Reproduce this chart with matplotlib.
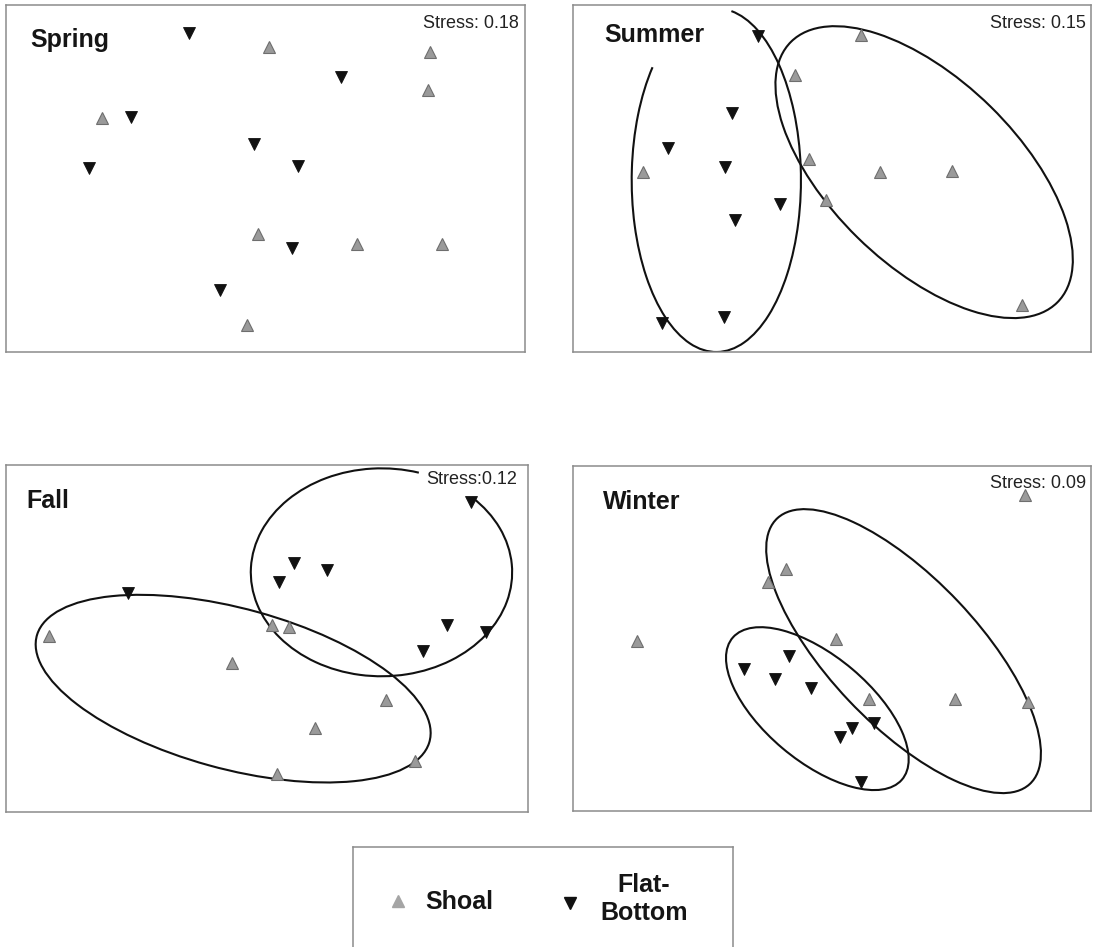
import matplotlib.pyplot as plt
from matplotlib.patches import Ellipse, Arc
from matplotlib.lines import Line2D

plt.rcParams['font.family'] = ['Liberation Sans', 'DejaVu Sans']

# NMDS ordination scores per season (axis 1, axis 2)
spring_shoal_x = [7.52, 12.02, 11.97, 2.86, 7.22, 10.00, 12.37, 6.92]
spring_shoal_y = [-1.41, -1.55, -2.71, -3.55, -7.02, -7.30, -7.31, -9.73]
spring_flat_x = [5.28, 9.55, 3.66, 7.12, 2.51, 8.33, 8.18, 6.15]
spring_flat_y = [-1.00, -2.32, -3.52, -4.33, -5.03, -4.98, -7.43, -8.70]

summer_shoal_x = [8.80, 6.87, 7.28, 2.41, 9.38, 11.48, 7.78, 13.54]
summer_shoal_y = [-1.08, -2.25, -4.77, -5.17, -5.16, -5.12, -6.00, -9.13]
summer_flat_x = [5.78, 5.02, 3.14, 4.83, 6.43, 5.13, 2.99, 4.79]
summer_flat_y = [-1.10, -3.40, -4.43, -5.00, -6.10, -6.60, -9.66, -9.48]

fall_shoal_x = [1.48, 6.55, 7.68, 8.15, 10.84, 8.86, 11.63, 7.82]
fall_shoal_y = [-5.57, -6.36, -5.25, -5.30, -7.47, -8.32, -9.30, -9.70]
fall_flat_x = [3.67, 8.28, 9.20, 7.85, 13.20, 12.52, 13.60, 11.85]
fall_flat_y = [-4.28, -3.38, -3.58, -3.96, -1.55, -5.23, -5.45, -6.00]

winter_shoal_x = [13.65, 6.64, 6.13, 2.29, 8.13, 9.08, 11.62, 13.75]
winter_shoal_y = [-1.33, -3.55, -3.95, -5.72, -5.65, -7.45, -7.46, -7.55]
winter_flat_x = [6.73, 5.43, 6.33, 7.38, 8.60, 9.24, 8.23, 8.85]
winter_flat_y = [-6.18, -6.57, -6.85, -7.13, -8.33, -8.18, -8.60, -9.95]

stress = {"Spring": "Stress: 0.18", "Summer": "Stress: 0.15",
          "Fall": "Stress:0.12", "Winter": "Stress: 0.09"}

# group ellipses: (cx, cy, width, height, angle, theta1, theta2)
summer_ell = [(4.57, -5.40, 4.96, 10.26, 0, 119, 445),
              (10.66, -5.16, 11.02, 5.52, -45, 0, 360)]
fall_ell = [(6.59, -7.14, 11.36, 4.78, -16.6, 0, 360),
            (10.71, -3.66, 7.26, 6.22, 0, 70.8, 401.6)]
winter_ell = [(10.10, -6.02, 10.90, 4.38, -47.3, 0, 360),
              (7.57, -7.75, 6.55, 3.14, -40.9, 0, 360)]

W, H = 1094, 947
fig = plt.figure(figsize=(W / 100, H / 100), dpi=100)


def add_panel(x0, y0, x1, y1):
    ax = fig.add_axes([x0 / W, 1 - y1 / H, (x1 - x0) / W, (y1 - y0) / H])
    ax.set_xticks([])
    ax.set_yticks([])
    for s in ax.spines.values():
        s.set_color('#8c8c8c')
        s.set_linewidth(1.1)
    return ax


panels = [
    ("Spring", (6, 5, 525, 352), (0.18, 14.68, -10.55, -0.15),
     spring_shoal_x, spring_shoal_y, spring_flat_x, spring_flat_y, [],
     (0.85, -1.40), (14.52, -0.85)),
    ("Summer", (573, 5, 1091, 352), (0.37, 15.55, -10.53, -0.17),
     summer_shoal_x, summer_shoal_y, summer_flat_x, summer_flat_y, summer_ell,
     (1.30, -1.28), (15.40, -0.85)),
    ("Fall", (6, 465, 528, 812), (0.28, 14.78, -10.83, -0.45),
     fall_shoal_x, fall_shoal_y, fall_flat_x, fall_flat_y, fall_ell,
     (0.85, -1.75), (14.48, -1.02)),
    ("Winter", (573, 466, 1091, 811), (0.40, 15.60, -10.83, -0.45),
     winter_shoal_x, winter_shoal_y, winter_flat_x, winter_flat_y, winter_ell,
     (1.28, -1.75), (15.45, -1.12)),
]

for name, box, lim, sx, sy, fx, fy, ells, tpos, spos in panels:
    ax = add_panel(*box)
    ax.set_xlim(lim[0], lim[1])
    ax.set_ylim(lim[2], lim[3])
    for cx, cy, w, h, ang, t1, t2 in ells:
        if t2 - t1 >= 360:
            ax.add_patch(Ellipse((cx, cy), w, h, angle=ang, fill=False,
                                 edgecolor='#111111', lw=1.5, zorder=2))
        else:
            ax.add_patch(Arc((cx, cy), w, h, angle=ang, theta1=t1, theta2=t2,
                             edgecolor='#111111', lw=1.5, zorder=2))
    ax.text(*tpos, name, fontsize=18, fontweight='bold', color='#151515',
            va='baseline', ha='left')
    ax.text(*spos, stress[name], fontsize=13, color='#222222',
            va='baseline', ha='right')
    ax.plot(sx, sy, ls='none', marker='^', ms=9, mfc='#9a9a9a',
            mec='#6e6e6e', mew=0.8, zorder=3)
    ax.plot(fx, fy, ls='none', marker='v', ms=9, mfc='#111111',
            mec='#111111', mew=0.6, zorder=3)

# legend box, its lower edge runs off the page
lg = add_panel(353, 847, 733, 967)
lg.plot([0.118], [0.55], ls='none', marker='^', ms=8, mfc='#a5a5a5',
        mec='#a5a5a5', transform=lg.transAxes)
lg.text(0.189, 0.545, "Shoal", fontsize=18, fontweight='bold',
        color='#151515', va='center', ha='left', transform=lg.transAxes)
lg.plot([0.571], [0.53], ls='none', marker='v', ms=8, mfc='#111111',
        mec='#111111', transform=lg.transAxes)
lg.text(0.766, 0.57, "Flat-\nBottom", fontsize=18, fontweight='bold',
        color='#151515', va='center', ha='center', multialignment='center',
        linespacing=1.2, transform=lg.transAxes)

fig.savefig("out.png", dpi=100)
